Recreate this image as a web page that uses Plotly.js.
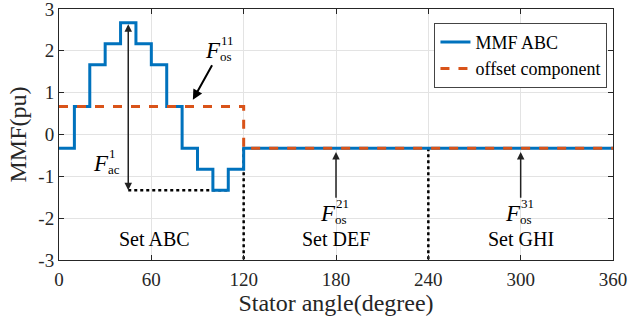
<!DOCTYPE html>
<html>
<head>
<meta charset="utf-8">
<script src="https://cdn.plot.ly/plotly-3.0.1.min.js"></script>
<style>html,body{margin:0;padding:0;background:#fff;}#chart{width:632px;height:325px;}</style>
</head>
<body>
<div id="chart"></div>
<script>
// Data
const stepEdges = [0, 10, 20, 30, 40, 50, 60, 70, 80, 90, 100, 110, 120, 360];
const mmfLevels = [-0.33, 0.67, 1.67, 2.17, 2.67, 2.17, 1.67, 0.67, -0.33, -0.83, -1.33, -0.83, -0.33, -0.33];
const offsetEdges = [0, 120, 360];
const offsetLevels = [0.67, -0.33, -0.33];
const setBoundaries = [120, 240];
const setNames = ['Set ABC', 'Set DEF', 'Set GHI'];
const setCenters = [62, 180, 300];
const xTicks = [0, 60, 120, 180, 240, 300, 360];
const yTicks = [-3, -2, -1, 0, 1, 2, 3];
const yTickLabels = ['-3', '-2', '-1', '0', '1', '2', '3'];
const acMin = -1.33, acMax = 2.67, acX = 45, acEndX = 110;

const serif = 'Liberation Serif, Times New Roman, serif';
const traces = [];

// helper dotted lines
setBoundaries.forEach(b => {
  traces.push({x: [b, b], y: [offsetLevels[2], -3], mode: 'lines', showlegend: false, hoverinfo: 'skip',
    line: {color: '#000', width: 2.5, dash: 'dot'}});
});
traces.push({x: [acX, acEndX], y: [acMin, acMin], mode: 'lines', showlegend: false, hoverinfo: 'skip',
  line: {color: '#000', width: 2.5, dash: 'dot'}});

traces.push({x: stepEdges, y: mmfLevels, mode: 'lines', name: 'MMF ABC',
  line: {color: '#0072BD', width: 3, shape: 'hv'}});
traces.push({x: offsetEdges, y: offsetLevels, mode: 'lines', name: 'offset component',
  line: {color: '#D95319', width: 3, shape: 'hv', dash: 'dash'}});

const annotations = [];
function fLabel(x, y, sup, sub) {
  annotations.push({x: x, y: y, xref: 'x', yref: 'y', text: '<i>F</i>', showarrow: false,
    font: {family: serif, size: 23, color: '#000'}});
  annotations.push({x: x, y: y, xref: 'x', yref: 'y', text: sup, showarrow: false, xanchor: 'left',
    xshift: 6, yshift: 10, font: {family: serif, size: 13, color: '#000'}});
  annotations.push({x: x, y: y, xref: 'x', yref: 'y', text: sub, showarrow: false, xanchor: 'left',
    xshift: 5, yshift: -6, font: {family: serif, size: 13, color: '#000'}});
}
fLabel(100, 2.0, '11', 'os');
fLabel(27, -0.69, '1', 'ac');
fLabel(175, -1.9, '21', 'os');
fLabel(295, -1.9, '31', 'os');

// arrows
annotations.push({x: 87, y: 0.83, ax: 100, ay: 1.69, xref: 'x', yref: 'y', axref: 'x', ayref: 'y',
  text: '', showarrow: true, arrowhead: 2, arrowsize: 1, arrowwidth: 2, arrowcolor: '#000'});
annotations.push({x: acX, y: acMin, ax: acX, ay: acMax, xref: 'x', yref: 'y', axref: 'x', ayref: 'y',
  text: '', showarrow: true, arrowhead: 2, startarrowhead: 2, arrowside: 'end+start', arrowsize: 1, arrowwidth: 1.5, arrowcolor: '#222'});
[180, 300].forEach(xa => {
  annotations.push({x: xa, y: -0.42, ax: xa, ay: -1.55, xref: 'x', yref: 'y', axref: 'x', ayref: 'y',
    text: '', showarrow: true, arrowhead: 2, arrowsize: 1, arrowwidth: 1.5, arrowcolor: '#222'});
});

setNames.forEach((n, i) => {
  annotations.push({x: setCenters[i], y: -2.5, xref: 'x', yref: 'y', text: n, showarrow: false,
    font: {family: serif, size: 20, color: '#000'}});
});

const axisCommon = {
  showgrid: true, gridcolor: '#e3e3e3', gridwidth: 1, zeroline: false,
  showline: true, linecolor: '#262626', linewidth: 1, mirror: 'ticks',
  ticks: 'inside', ticklen: 5, tickcolor: '#262626', ticklabeloverflow: 'allow',
  tickfont: {family: serif, size: 19, color: '#262626'}
};

const layout = {
  width: 632, height: 325,
  margin: {l: 59, r: 19, t: 9, b: 65},
  paper_bgcolor: '#fff', plot_bgcolor: '#fff',
  xaxis: Object.assign({}, axisCommon, {range: [0, 360], tickvals: xTicks, ticklabelstandoff: 2,
    title: {text: 'Stator angle(degree)', font: {family: serif, size: 24, color: '#262626'}, standoff: 5}}),
  yaxis: Object.assign({}, axisCommon, {range: [-3, 3], tickvals: yTicks, ticktext: yTickLabels,
    title: {text: 'MMF(pu)', font: {family: serif, size: 24, color: '#262626'}, standoff: 4}}),
  legend: {x: 0.99, y: 0.945, xanchor: 'right', yanchor: 'top', bgcolor: '#fff',
    bordercolor: '#444', borderwidth: 1, font: {family: serif, size: 18, color: '#000'},
    tracegroupgap: 0},
  annotations: annotations,
  showlegend: true
};

Plotly.newPlot('chart', traces, layout, {staticPlot: true, displayModeBar: false});
</script>
</body>
</html>
